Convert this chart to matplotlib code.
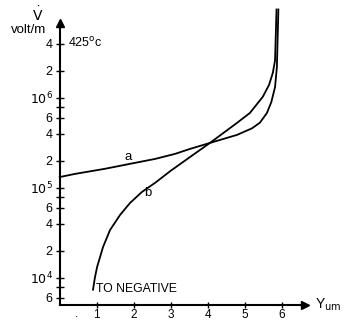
"""
Field strength V' versus depth Y (um) at 425 oC, curves a and b.
"""

import matplotlib
matplotlib.use('Agg')
import matplotlib.pyplot as plt

plt.rcParams['font.family'] = ['Liberation Sans', 'DejaVu Sans']

# curve a
a_depth = [0.0, 0.41, 1.22, 2.04, 2.58, 3.12, 3.52, 4.06, 4.79, 5.2, 5.41,
           5.6, 5.72, 5.82, 5.87, 5.91]
a_field = [1.32e5, 1.43e5, 1.63e5, 1.9e5, 2.1e5, 2.39e5, 2.71e5, 3.16e5,
           3.88e5, 4.6e5, 5.3e5, 6.8e5, 9.0e5, 1.32e6, 2.2e6, 9.6e6]

# curve b
b_depth = [0.90, 0.95, 1.01, 1.09, 1.17, 1.36, 1.63, 1.90, 2.22, 2.58, 3.0,
           3.52, 4.06, 4.79, 5.14, 5.49, 5.66, 5.76, 5.82, 5.86]
b_field = [7.4e3, 1.0e4, 1.32e4, 1.7e4, 2.2e4, 3.4e4, 5.0e4, 6.8e4, 9.0e4,
           1.14e5, 1.55e5, 2.2e5, 3.16e5, 5.27e5, 6.8e5, 1.03e6, 1.4e6,
           1.9e6, 2.6e6, 9.6e6]

x_ticks = [1, 2, 3, 4, 5, 6]
y_ticks = [4e6, 2e6, 1e6, 8e5, 6e5, 4e5, 2e5, 1e5, 8e4, 6e4, 4e4, 2e4, 1e4, 8e3, 6e3]
y_labels = ['4', '2', r'$10^6$', '', '6', '4', '2', r'$10^5$', '', '6', '4', '2',
            r'$10^4$', '', '6']

W, H = 344, 322
fig = plt.figure(figsize=(W / 100, H / 100), dpi=100)

# axes box in pixels: x 0 at 59.7 px, 37 px per unit; log y 90 px per decade
x0_px, unit = 59.7, 37.0
x_lo, x_hi = 0.0, 6.8
y_lo, y_hi = 5.0e3, 1.05e7
left = x0_px / W
width = (x_hi - x_lo) * unit / W
bottom = 17 / H
height = (305 - 6) / H
ax = fig.add_axes([left, bottom, width, height])
ax.set_yscale('log')
ax.set_xlim(x_lo, x_hi)
ax.set_ylim(y_lo, y_hi)

ax.plot(a_depth, a_field, color='black', lw=1.3, clip_on=False,
        solid_joinstyle='round')
ax.plot(b_depth, b_field, color='black', lw=1.3, clip_on=False,
        solid_joinstyle='round')

# axes as arrows
for s in ['top', 'right']:
    ax.spines[s].set_visible(False)
ax.spines['left'].set_linewidth(1.5)
ax.spines['bottom'].set_linewidth(1.5)
ax.spines['left'].set_bounds(y_lo, 7.0e6)
ax.spines['bottom'].set_bounds(x_lo, 6.6)
ax.plot([6.62], [y_lo], marker='>', color='black', ms=6, clip_on=False)
ax.plot([0], [6.8e6], marker='^', color='black', ms=6, clip_on=False)

ax.set_xticks(x_ticks)
ax.set_xticklabels([str(t) for t in x_ticks], fontsize=8.5)
ax.set_yticks(y_ticks)
ax.set_yticklabels(y_labels, fontsize=9)
ax.minorticks_off()
ax.tick_params(axis='both', direction='inout', length=6, width=1.0, pad=2)
ax.tick_params(axis='x', length=5, pad=0.5)

ax.annotate('.', xy=(0.45, y_lo), xytext=(0, -2), textcoords='offset points',
            ha='center', va='top', fontsize=8.5)

# labels
ax.text(1.85, 2.2e5, 'a', fontsize=9.5, ha='center', va='center')
ax.text(2.39, 8.8e4, 'b', fontsize=9.5, ha='center', va='center')
ax.text(0.98, 7.6e3, 'TO NEGATIVE', fontsize=8.8, ha='left', va='center')
ax.text(0.22, 4.1e6, r'425$^{\rm o}$c', fontsize=9, ha='left', va='center')

fig.text(46 / W, 1 - 30 / H, 'volt/m', fontsize=9.5, ha='right', va='center')
fig.text(38 / W, 1 - 15 / H, r'$\dot{\rm V}$', fontsize=10, ha='center',
         va='center')
fig.text(315 / W, 1 - 305 / H, r'Y$_{\rm um}$', fontsize=10, ha='left',
         va='center')

fig.savefig('out.png', dpi=100)
